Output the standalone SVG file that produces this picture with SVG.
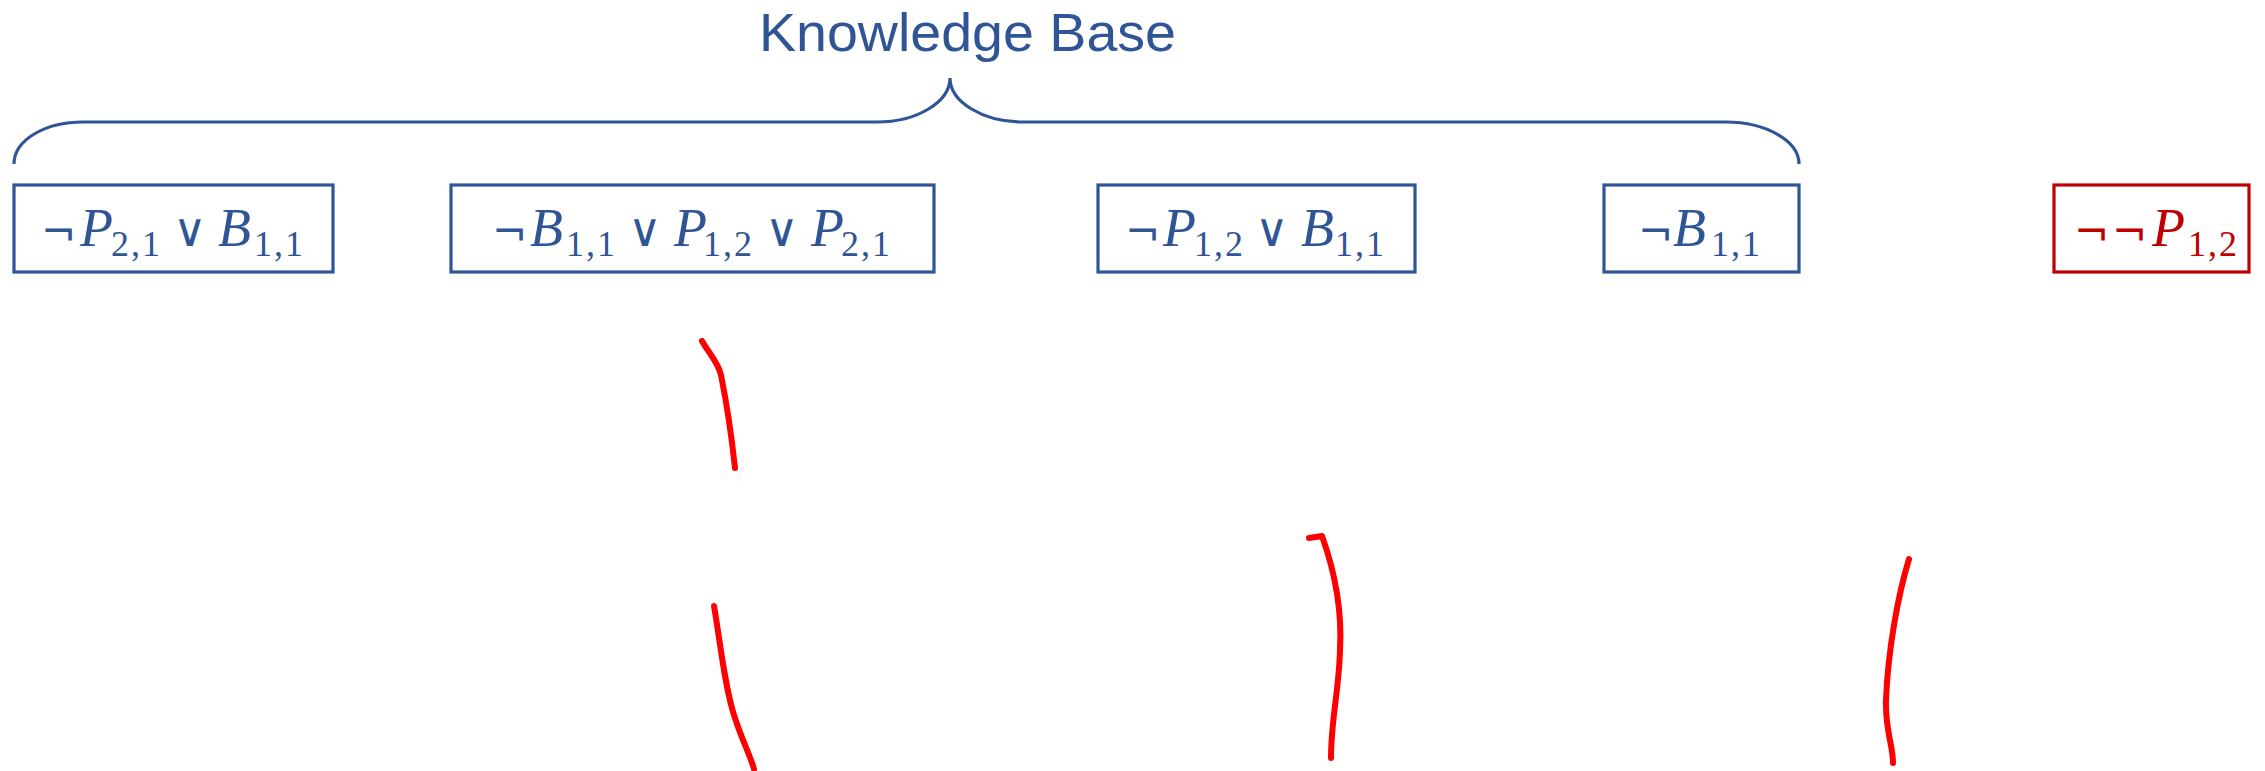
<svg xmlns="http://www.w3.org/2000/svg" width="2265" height="771" viewBox="0 0 2265 771">
<style>
.box{fill:#ffffff;stroke:#2F5597;stroke-width:3.2}
.box.red{stroke:#C00000}
.m{font-family:"Liberation Serif","DejaVu Serif",serif;font-size:54px;fill:#2F5597}
.red .m,.m.red{fill:#C00000}
.it{font-style:italic}
.sub{font-size:36px;letter-spacing:2px}
.or{font-family:"DejaVu Sans",sans-serif;font-size:46px}
.neg{font-family:"DejaVu Sans",sans-serif;font-size:42px}
.title{font-family:"Liberation Sans",Arial,sans-serif;font-size:54px;fill:#2F5597}
.brace{fill:none;stroke:#2F5597;stroke-width:3.2}
.ink{fill:none;stroke:#FF0000;stroke-width:6;stroke-linecap:round;stroke-linejoin:round}
</style>
<rect width="2265" height="771" fill="#ffffff"/>
<g id="kb-title">
<text class="title" x="759" y="51" textLength="417" lengthAdjust="spacingAndGlyphs">Knowledge Base</text>
<path class="brace" d="M14,164 C14,140 45,122 83,122 L877,122 C917,122 950,102 950,78 C950,102 983,122 1023,122 L1726,122 C1766,122 1799,141 1799,164"/>
</g>
<g id="clause1">
<rect class="box" x="14" y="185" width="319" height="87"/>
<text class="m" y="246"><tspan class="neg" x="41">¬</tspan><tspan class="it" x="80">P</tspan><tspan class="sub" x="111" y="256">2,1</tspan><tspan class="or" x="173" y="246">∨</tspan><tspan class="it" x="218" y="246">B</tspan><tspan class="sub" x="254" y="256">1,1</tspan></text>
</g>
<g id="clause2">
<rect class="box" x="451" y="185" width="483" height="87"/>
<text class="m" y="246"><tspan class="neg" x="492">¬</tspan><tspan class="it" x="530">B</tspan><tspan class="sub" x="566" y="256">1,1</tspan><tspan class="or" x="628" y="246">∨</tspan><tspan class="it" x="674" y="246">P</tspan><tspan class="sub" x="703" y="256">1,2</tspan><tspan class="or" x="765" y="246">∨</tspan><tspan class="it" x="811" y="246">P</tspan><tspan class="sub" x="841" y="256">2,1</tspan></text>
</g>
<g id="clause3">
<rect class="box" x="1098" y="185" width="317" height="87"/>
<text class="m" y="246"><tspan class="neg" x="1125">¬</tspan><tspan class="it" x="1163">P</tspan><tspan class="sub" x="1194" y="256">1,2</tspan><tspan class="or" x="1255" y="246">∨</tspan><tspan class="it" x="1301" y="246">B</tspan><tspan class="sub" x="1335" y="256">1,1</tspan></text>
</g>
<g id="clause4">
<rect class="box" x="1604" y="185" width="195" height="87"/>
<text class="m" y="246"><tspan class="neg" x="1638">¬</tspan><tspan class="it" x="1673">B</tspan><tspan class="sub" x="1711" y="256">1,1</tspan></text>
</g>
<g id="negated-query">
<rect class="box red" x="2054" y="185" width="195" height="87"/>
<text class="m red" y="246"><tspan class="neg" x="2074">¬</tspan><tspan class="neg" x="2112">¬</tspan><tspan class="it" x="2152">P</tspan><tspan class="sub" x="2188" y="256">1,2</tspan></text>
</g>
<g id="ink-strokes">
<path class="ink" d="M702,341 C708,352 718,362 721,375 C727,405 732,440 735,468"/>
<path class="ink" d="M714,606 C720,640 725,690 735,718 C742,740 750,755 754,769"/>
<path class="ink" d="M1309,538 L1322,536 C1336,575 1342,615 1340,650 C1339,690 1331,720 1331,758"/>
<path class="ink" d="M1909,559 C1898,595 1888,650 1886,700 C1885,730 1893,745 1893,763"/>
</g>
</svg>
